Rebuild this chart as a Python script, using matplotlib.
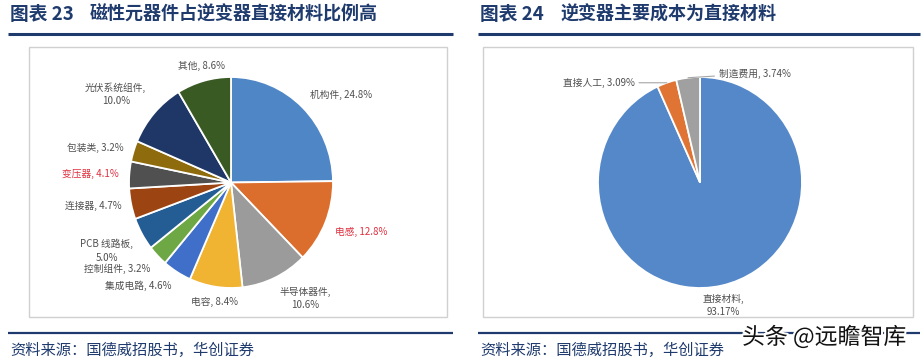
import numpy as np
import matplotlib
matplotlib.use("Agg")
import matplotlib.pyplot as plt
import matplotlib.patheffects as pe
from matplotlib.patches import Rectangle

plt.rcParams['font.family'] = ['Noto Sans CJK SC', 'DejaVu Sans']

# ---------------- data ----------------
fig_no_left = "图表 23"
title_left = "磁性元器件占逆变器直接材料比例高"
fig_no_right = "图表 24"
title_right = "逆变器主要成本为直接材料"
source_text = "资料来源：国德威招股书，华创证券"
watermark = "头条 @远瞻智库"

left_names = ["机构件", "电感", "半导体器件", "电容", "集成电路", "控制组件",
              "PCB 线路板", "连接器", "变压器", "包装类", "光伏系统组件", "其他"]
left_values = [24.8, 12.8, 10.6, 8.4, 4.6, 3.2, 5.0, 4.7, 4.1, 3.2, 10.0, 8.6]
left_colors = ["#4F86C6", "#DC6E2D", "#9B9B9B", "#F1B332", "#3F6FC8", "#6EA845",
               "#245C94", "#9D4512", "#505050", "#8E6B0D", "#1E3766", "#3A5A24"]
left_wrapped = ["半导体器件", "PCB 线路板", "光伏系统组件"]
left_highlight = ["电感", "变压器"]

right_names = ["直接材料", "直接人工", "制造费用"]
right_values = [93.17, 3.09, 3.74]
right_colors = ["#5588C8", "#E07434", "#A0A0A0"]

# ---------------- layout ----------------
W, H = 921, 361
fig = plt.figure(figsize=(W / 100, H / 100), dpi=100)
bg = fig.add_axes([0, 0, 1, 1])
bg.set_xlim(0, W)
bg.set_ylim(H, 0)
bg.axis('off')

navy = "#1F3B6E"
label_gray = "#505050"
red = "#E0303F"

# titles
for x_no, x_t, no, t in [(10, 90, fig_no_left, title_left), (480, 560, fig_no_right, title_right)]:
    bg.text(x_no, 14, no, fontsize=13.5, fontweight='bold', color=navy, va='center', ha='left')
    bg.text(x_t, 14, t, fontsize=13, fontweight='bold', color=navy, va='center', ha='left')
# rules
for x0, x1 in [(8, 453), (478, 920)]:
    bg.plot([x0, x1], [33.5, 33.5], color=navy, lw=2.2, solid_capstyle='butt')
    bg.plot([x0, x1], [333, 333], color=navy, lw=1.6, solid_capstyle='butt')
# chart boxes
bg.add_patch(Rectangle((29, 47), 418, 270, fill=False, edgecolor="#D0D0D0", lw=1))
bg.add_patch(Rectangle((483, 47), 430, 270, fill=False, edgecolor="#D0D0D0", lw=1))
# sources
bg.text(10, 350, source_text, fontsize=11, color=navy, style='italic', va='center', ha='left')
bg.text(480, 350, source_text, fontsize=11, color=navy, style='italic', va='center', ha='left')
# watermark
bg.text(742, 337, watermark, fontsize=16.5, color="#111111", va='center', ha='left',
        path_effects=[pe.withStroke(linewidth=3, foreground='white')])


def pie_axes(cx, cy, rx, ry):
    return fig.add_axes([(cx - rx) / W, 1 - (cy + ry) / H, 2 * rx / W, 2 * ry / H])


def align(c, s):
    ha = 'left' if c > 0.3 else ('right' if c < -0.3 else 'center')
    va = 'bottom' if s > 0.3 else ('top' if s < -0.3 else 'center')
    return ha, va


# ---------------- left pie ----------------
axl = pie_axes(231, 182.5, 102, 105.5)
wedges, _ = axl.pie(left_values, colors=left_colors, startangle=90, counterclock=False,
                    radius=1, frame=True,
                    wedgeprops=dict(edgecolor='white', linewidth=1.3))
axl.set_xlim(-1, 1)
axl.set_ylim(-1, 1)
axl.set_aspect('auto')
axl.axis('off')

for w, name, val in zip(wedges, left_names, left_values):
    th = np.deg2rad((w.theta1 + w.theta2) / 2)
    c, s = np.cos(th), np.sin(th)
    ha, va = align(c, s)
    sep = ",\n" if name in left_wrapped else ", "
    txt = f"{name}{sep}{val:.1f}%"
    col = red if name in left_highlight else label_gray
    axl.text(1.1 * c, 1.1 * s, txt, ha=ha, va=va, multialignment='center',
             fontsize=7, color=col, clip_on=False, linespacing=1.4)

# ---------------- right pie ----------------
axr = pie_axes(700, 182.5, 102, 105.5)
wedges_r, _ = axr.pie(right_values, colors=right_colors, startangle=90, counterclock=False,
                      radius=1, frame=True,
                      wedgeprops=dict(edgecolor='white', linewidth=1.3))
axr.set_xlim(-1, 1)
axr.set_ylim(-1, 1)
axr.set_aspect('auto')
axr.axis('off')

leader_offsets = {"直接人工": (-23, 0, 'right'), "制造费用": (22, 3, 'left')}
for w, name, val in zip(wedges_r, right_names, right_values):
    th = np.deg2rad((w.theta1 + w.theta2) / 2)
    c, s = np.cos(th), np.sin(th)
    if name in leader_offsets:
        dx, dy, ha = leader_offsets[name]
        axr.annotate(f"{name}, {val:.2f}%", xy=(c, s), xytext=(dx, dy),
                     textcoords='offset points', ha=ha, va='center', fontsize=7,
                     color=label_gray, annotation_clip=False,
                     arrowprops=dict(arrowstyle='-', color='#A6A6A6', lw=0.8,
                                     shrinkA=1, shrinkB=0))
    else:
        ha, va = align(c, s)
        axr.text(1.08 * c, 1.08 * s, f"{name},\n{val:.2f}%", ha=ha, va=va,
                 multialignment='center', fontsize=7, color=label_gray,
                 clip_on=False, linespacing=1.4)

fig.savefig("out.png", dpi=100)
